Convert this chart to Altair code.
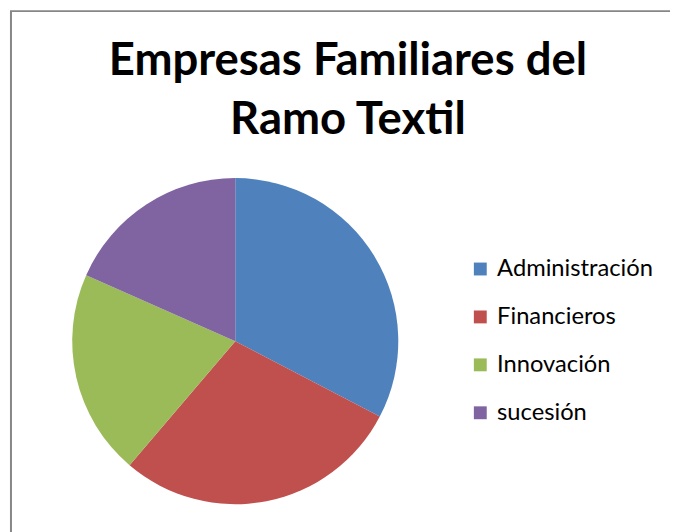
import altair as alt
import pandas as pd

categories = ["Administración", "Financieros", "Innovación", "sucesión"]
values = [16, 14, 10, 9]
colors = ["#4F81BD", "#C0504D", "#9BBB59", "#8064A2"]
title_lines = ["Empresas Familiares del", "Ramo Textil"]

df = pd.DataFrame({"categoria": categories, "valor": values, "orden": list(range(len(categories)))})

pie = alt.Chart(df).mark_arc(outerRadius=165, stroke=None).encode(
    theta=alt.Theta("valor:Q", stack=True),
    order=alt.Order("orden:Q"),
    color=alt.Color(
        "categoria:N",
        sort=categories,
        scale=alt.Scale(domain=categories, range=colors),
        legend=alt.Legend(
            title=None,
            orient="none",
            legendX=466,
            legendY=249,
            symbolType="square",
            symbolSize=170,
            symbolStrokeWidth=0,
            labelFont="Lato",
            labelFontSize=24,
            labelColor="#000000",
            rowPadding=24.5,
            labelOffset=5,
        ),
    ),
    x=alt.value(230),
    y=alt.value(334),
)

border = alt.Chart(pd.DataFrame({"k": [0]})).mark_rect(
    fill=None, stroke="#868686", strokeWidth=2
).encode(
    x=alt.value(3), x2=alt.value(700), y=alt.value(0), y2=alt.value(700)
)

title1 = alt.Chart(pd.DataFrame({"t": [title_lines[0]]})).mark_text(
    font="Lato", fontSize=46, fontWeight="bold", color="#000000",
    align="center", baseline="alphabetic"
).encode(text="t:N", x=alt.value(344), y=alt.value(65))

title2 = alt.Chart(pd.DataFrame({"t": [title_lines[1]]})).mark_text(
    font="Lato", fontSize=46, fontWeight="bold", color="#000000",
    align="center", baseline="alphabetic"
).encode(text="t:N", x=alt.value(344), y=alt.value(124))

chart = alt.layer(border, title1, title2, pie).properties(
    width=670,
    height=524,
    padding=0,
    autosize=alt.AutoSizeParams(type="none"),
    background="white",
).configure_view(stroke=None)

chart.save("out.html", embed_options={"renderer": "svg", "actions": False})
